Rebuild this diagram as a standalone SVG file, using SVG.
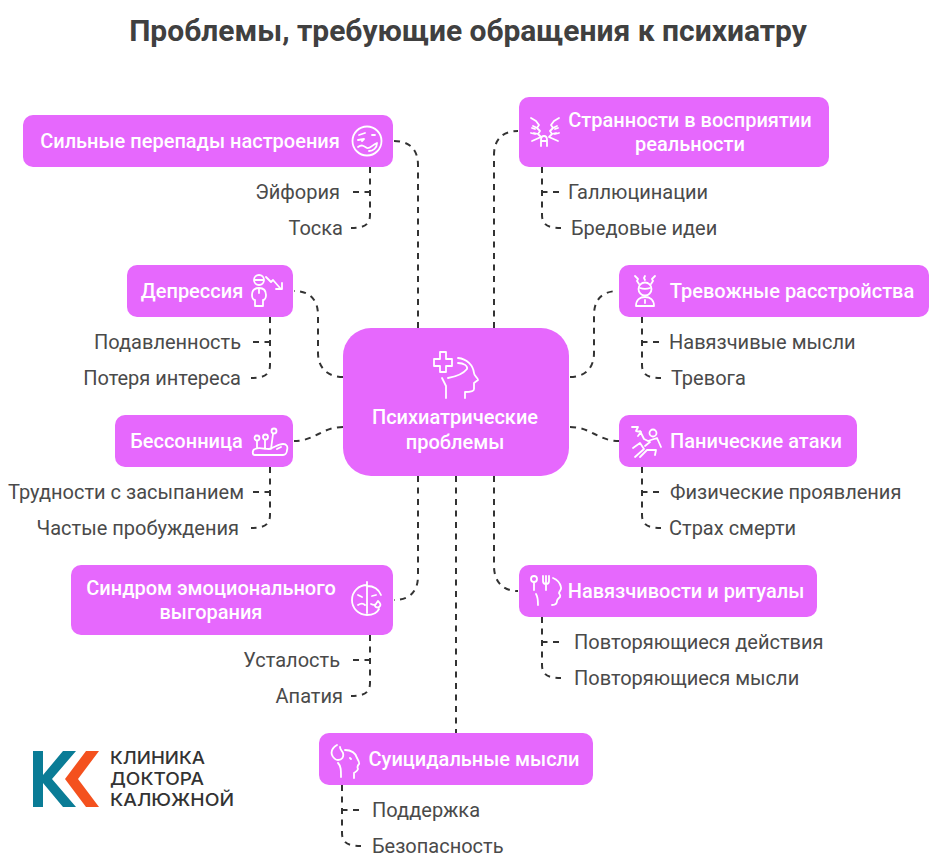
<svg xmlns="http://www.w3.org/2000/svg" width="940" height="866" viewBox="0 0 940 866">
<style>
.n{fill:#e668fd}
.t{font-family:Roboto,"Noto Sans",sans-serif;font-size:20px;font-weight:500;fill:#fff;text-anchor:middle}
.l{font-family:Roboto,"Noto Sans",sans-serif;font-size:20px;fill:#4a4a4a}
.e{text-anchor:end}
.c{fill:none;stroke:#333;stroke-width:2;stroke-dasharray:6 5.500}
.i{fill:none;stroke:#fff;stroke-width:1.8;stroke-linecap:round;stroke-linejoin:round}
.g{font-family:Inter,Roboto,sans-serif;font-size:17.500px;font-weight:500;fill:#333}
</style>
<rect width="940" height="866" fill="#fff"/>
<text x="468" y="41" text-anchor="middle" font-family="Roboto,sans-serif" font-size="30px" font-weight="700" fill="#404040">Проблемы, требующие обращения к психиатру</text>
<g id="connectors">
<path class="c" d="M418 328V165C418 150 410 141 394 141"/>
<path class="c" d="M370 167V215C370 226 362 228 351 228"/>
<path class="c" d="M370.500 192H352"/>
<path class="c" d="M343 377C328 377 318 368 318 353V315C318 300 310 291 294 291"/>
<path class="c" d="M270 317V365C270 376 262 378 251 378"/>
<path class="c" d="M270.500 342H252"/>
<path class="c" d="M343 427C322 427 315 441 294 441"/>
<path class="c" d="M270 467V515C270 526 262 528 251 528"/>
<path class="c" d="M270.500 492H252"/>
<path class="c" d="M418 476V576C418 591 410 600 394 600"/>
<path class="c" d="M370 635V683C370 694 362 696 351 696"/>
<path class="c" d="M370.500 660H352"/>
<path class="c" d="M456 476V733"/>
<path class="c" d="M342 785V833C342 844 350 846 361 846"/>
<path class="c" d="M341.500 810H361"/>
<path class="c" d="M494 328V155C494 140 502 131 518 131"/>
<path class="c" d="M542 167V215C542 226 550 228 561 228"/>
<path class="c" d="M541.500 192H561"/>
<path class="c" d="M570 377C585 377 594 368 594 353V315C594 300 602 291 618 291"/>
<path class="c" d="M642 317V365C642 376 650 378 661 378"/>
<path class="c" d="M641.500 342H661"/>
<path class="c" d="M570 427C591 427 598 441 619 441"/>
<path class="c" d="M642 467V515C642 526 650 528 661 528"/>
<path class="c" d="M641.500 492H661"/>
<path class="c" d="M494 476V566C494 581 502 591 518 591"/>
<path class="c" d="M542 617V665C542 676 550 678 561 678"/>
<path class="c" d="M541.500 642H561"/>
</g>
<g id="center">
<rect class="n" x="343" y="328" width="226" height="148" rx="28"/>
<path class="i" d="M434 359h6v-7h6v7h6v7h-6v6h-6v-6h-6zM458 358c9 1 15 7 16 15 0 3 4 5 4 7l-4 3v6c0 2-3 3-9 3v6M448 378c6-1 15-4 19-9 1-3-3-6-9-6M442 378l4 8v12"/>
<text class="t" x="455" y="424">Психиатрические</text>
<text class="t" x="455" y="449">проблемы</text>
</g>
<g id="mood">
<rect class="n" x="23" y="115" width="370" height="52" rx="10"/>
<text class="t" x="190" y="148">Сильные перепады настроения</text>
<circle class="i" cx="367" cy="141" r="14.500"/>
<path class="i" d="M359 135l6-2M358 140l6-1-2 2M372 135h3M358 147c4-3 6-1 9 1 3 1 5-3 10-5 0 5-4 8-8 8"/>
</g>
<text class="l e" x="340" y="198.500">Эйфория</text>
<text class="l e" x="343" y="234.500">Тоска</text>
<g id="depression">
<rect class="n" x="127" y="265" width="166" height="52" rx="10"/>
<text class="t" x="192" y="298">Депрессия</text>
<circle class="i" cx="259" cy="280" r="5"/>
<path class="i" d="M255 280h8M252 295c0-5 3-7 7-7s7 2 7 7c0 2-1 5-3 5v6h-8v-6c-2 0-3-3-3-5zM259 288v5M266 277l5 5 2-2 7 8M282 283v6h-6"/>
</g>
<text class="l e" x="241" y="348.500">Подавленность</text>
<text class="l e" x="241" y="384.500">Потеря интереса</text>
<g id="insomnia">
<rect class="n" x="115" y="415" width="178" height="52" rx="10"/>
<text class="t" x="186.500" y="448">Бессонница</text>
<path class="i" d="M255 455c-3 0-3-5 0-6 4-2 9 0 14 0 5-1 9-5 14-5 4 0 5 3 4 6 0 3-2 5-4 5zM257 441v7M265 440v9M273 434l-2 15M281 447l-4 2"/>
<circle class="i" cx="257" cy="438" r="2.500"/><circle class="i" cx="265.500" cy="437" r="2.500"/><circle class="i" cx="274" cy="431" r="2.500"/>
</g>
<text class="l e" x="244" y="498.500">Трудности с засыпанием</text>
<text class="l e" x="239" y="534.500">Частые пробуждения</text>
<g id="burnout">
<rect class="n" x="71" y="565" width="322" height="70" rx="10"/>
<text class="t" x="211" y="595">Синдром эмоционального</text>
<text class="t" x="211" y="619">выгорания</text>
<path class="i" d="M367 585a15 15 0 0 0 0 30M367 582v31M367 586c7 0 12 4 14 9M367 615c6 0 10-2 12-6M358 595l4 2M372 596l4-1M358 605c3-2 5-2 7 0M371 604c2 1 4 1 5 0M378 601c2 2 3 4 2 5-1 2-4 2-5 0 0-2 2-3 3-5z"/>
</g>
<text class="l e" x="340" y="666.500">Усталость</text>
<text class="l e" x="343" y="702.500">Апатия</text>
<g id="reality">
<rect class="n" x="519" y="97" width="310" height="70" rx="10"/>
<text class="t" x="690" y="127">Странности в восприятии</text>
<text class="t" x="690" y="151">реальности</text>
<path class="i" d="M531 118l5 3 3 4-2 3-4-2M537 128l3 3-2 3-4-1M538 134l3 3-9 4M532 128l3 1M531 133l4 1M559 118l-5 3-3 4 2 3 4-2M553 128l-3 3 2 3 4-1M552 134l-3 3 9 4M558 128l-3 1M559 133l-4 1M541 146v-6c0-3 1-4 3-4s3 1 3 4v6M541 141h6"/>
</g>
<text class="l" x="568" y="198.500">Галлюцинации</text>
<text class="l" x="571" y="234.500">Бредовые идеи</text>
<g id="anxiety">
<rect class="n" x="619" y="265" width="310" height="52" rx="10"/>
<text class="t" x="792" y="298">Тревожные расстройства</text>
<circle class="i" cx="645" cy="289" r="6.500"/>
<path class="i" d="M640 288c3 1 7 1 10 0M636 306c0-6 4-9 9-9s9 3 9 9zM645 300v3M635 276l3 3-1 2 2 3M655 276l-3 3 1 2-2 3M645 276l-1 2 1 2"/>
</g>
<text class="l" x="669" y="348.500">Навязчивые мысли</text>
<text class="l" x="671" y="384.500">Тревога</text>
<g id="panic">
<rect class="n" x="619" y="415" width="238" height="52" rx="10"/>
<text class="t" x="756" y="448">Панические атаки</text>
<circle class="i" cx="653" cy="433" r="3.500"/>
<path class="i" d="M632 427l6 0-2 4 5 1-3 4M640 431l4 8 4 2M648 441l9-3 4 9M633 448l7-5 4 6-9 8M640 457l7-7 9 0-1 5M645 446l5-4"/>
</g>
<text class="l" x="670" y="498.500">Физические проявления</text>
<text class="l" x="669" y="534.500">Страх смерти</text>
<g id="obsession">
<rect class="n" x="519" y="565" width="298" height="52" rx="10"/>
<text class="t" x="686" y="598">Навязчивости и ритуалы</text>
<circle class="i" cx="534" cy="579" r="3"/>
<path class="i" d="M534 582v8M543 576v5c0 3 3 3 3 3s3 0 3-3v-5M546 576v14M553 578c5 2 7 5 8 9 1 3-2 4-2 6 0 1 2 2 1 4-1 1-3 2-3 4 0 3-2 4-5 4M536 594c2 3 2 6 2 11"/>
</g>
<text class="l" x="574" y="648.500">Повторяющиеся действия</text>
<text class="l" x="574" y="684.500">Повторяющиеся мысли</text>
<g id="suicide">
<rect class="n" x="319" y="733" width="274" height="52" rx="10"/>
<text class="t" x="474" y="766">Суицидальные мысли</text>
<path class="i" d="M337 745c-5 3-6 7-5 10s4 5 6 5c4 0 6-3 5-7-1-2-3-4-3-6M345 750c6 0 11 3 12 8 1 2 3 5 2 6-2 2-2 3-1 5-1 3-3 3-4 4v5M338 763c3 3 3 7 3 14M350 758l1 1"/>
</g>
<text class="l" x="372" y="816.500">Поддержка</text>
<text class="l" x="372" y="852.500">Безопасность</text>
<g id="logo">
<polygon fill="#0a7c96" points="33,751 43,751 43,775 63,751 76,751 52,779 76,807 63,807 43,783 43,807 33,807"/>
<polygon fill="#f4511e" points="86,751 99,751 78,779 99,807 86,807 65,779"/>
<text class="g" x="110" y="764" textLength="95" lengthAdjust="spacingAndGlyphs">КЛИНИКА</text>
<text class="g" x="110" y="785" textLength="94" lengthAdjust="spacingAndGlyphs">ДОКТОРА</text>
<text class="g" x="110" y="806" textLength="124" lengthAdjust="spacingAndGlyphs">КАЛЮЖНОЙ</text>
</g>
</svg>
